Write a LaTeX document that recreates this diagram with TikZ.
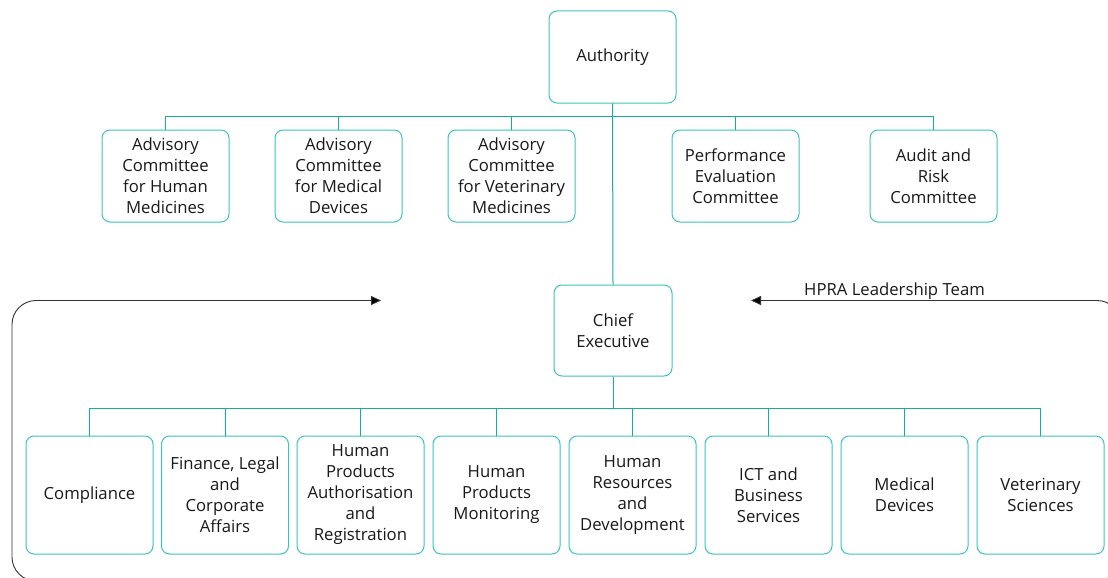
\documentclass[tikz,border=0pt]{standalone}
\usepackage{fontspec}
\setmainfont{Open Sans}
\usetikzlibrary{arrows.meta}
\definecolor{boxteal}{RGB}{60,196,188}
\definecolor{lineteal}{RGB}{22,172,162}
\definecolor{bracketgray}{RGB}{50,50,50}
\begin{document}
\begin{tikzpicture}[x=1pt,y=-1pt,
  orgbox/.style={draw=boxteal,line width=1pt,rounded corners=8pt,fill=white,
    minimum width=127pt,minimum height=92pt,align=center,inner sep=2pt,
    font=\fontsize{16.7}{21}\selectfont,text=black!90},
  tallbox/.style={orgbox,minimum height=118pt},
  link/.style={draw=lineteal,line width=1pt},
  bracket/.style={draw=bracketgray,line width=0.9pt,rounded corners=24pt,
    {Triangle[length=10pt,width=9pt,fill=black]}-{Triangle[length=10pt,width=9pt,fill=black]}}]
\useasboundingbox (0,0) rectangle (1108,578);
\clip (0,0) rectangle (1108,578);
% bracket for leadership team
\coordinate (la) at (381,300.5);
\coordinate (ra) at (751,300.5);
\draw[bracket] (la) -- (12,300.5) -- (12,581) -- (1121,581) -- (1121,300.5) -- (ra);
\node[anchor=base west,font=\fontsize{16.7}{21}\selectfont,text=black!90,inner sep=0pt] (hlt) at (804,295) {HPRA Leadership Team};
% top
\node[orgbox] (auth) at (612.5,57) {Authority};
\node[orgbox] (achm) at (165.5,176) {Advisory\\Committee\\for Human\\Medicines};
\node[orgbox] (acmd) at (338.5,176) {Advisory\\Committee\\for Medical\\Devices};
\node[orgbox] (acvm) at (511.5,176) {Advisory\\Committee\\for Veterinary\\Medicines};
\node[orgbox] (pec) at (735.5,176) {Performance\\Evaluation\\Committee};
\node[orgbox] (arc) at (933.5,176) {Audit and\\Risk\\Committee};
\node[orgbox,minimum width=118pt,minimum height=91pt] (ce) at (613,330.5) {Chief\\Executive};
% bottom row
\node[tallbox] (comp) at (89.5,495) {Compliance};
\node[tallbox] (fin) at (225,495) {Finance, Legal\\and\\Corporate\\Affairs};
\node[tallbox] (hpar) at (360.5,495) {Human\\Products\\Authorisation\\and\\Registration};
\node[tallbox] (hpm) at (496.5,495) {Human\\Products\\Monitoring};
\node[tallbox] (hrd) at (632.5,495) {Human\\Resources\\and\\Development};
\node[tallbox] (ict) at (768.5,495) {ICT and\\Business\\Services};
\node[tallbox] (md) at (904.5,495) {Medical\\Devices};
\node[tallbox] (vs) at (1040.5,495) {Veterinary\\Sciences};
% connectors top
\coordinate (tbar) at (0,116);
\draw[link] (auth.south) -- (ce.north);
\foreach \n in {achm,acmd,acvm,pec,arc}{
  \draw[link] (auth.south |- tbar) -| (\n.north);
}
% connectors bottom
\coordinate (bbar) at (0,408);
\draw[link] (ce.south) -- (ce.south |- bbar);
\foreach \n in {comp,fin,hpar,hpm,hrd,ict,md,vs}{
  \draw[link] (ce.south |- bbar) -| (\n.north);
}
\end{tikzpicture}
\end{document}
